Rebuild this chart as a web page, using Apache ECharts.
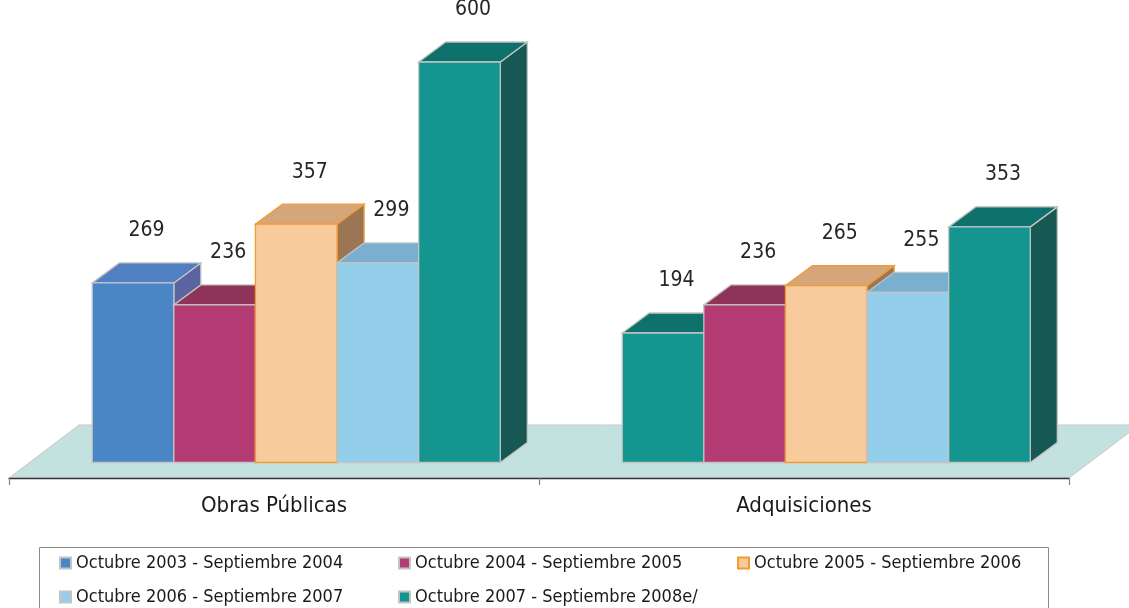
<!DOCTYPE html>
<html>
<head>
<meta charset="utf-8">
<script src="https://cdn.jsdelivr.net/npm/echarts@6/dist/echarts.min.js"></script>
<style>
html,body{margin:0;padding:0;background:#fff;}
#chart{width:1129px;height:608px;}
</style>
</head>
<body>
<div id="chart"></div>
<script>
const categories = ['Obras Públicas', 'Adquisiciones'];
const seriesNames = [
  'Octubre 2003 - Septiembre 2004',
  'Octubre 2004 - Septiembre 2005',
  'Octubre 2005 - Septiembre 2006',
  'Octubre 2006 - Septiembre 2007',
  'Octubre 2007 - Septiembre 2008e/'
];
const values2004 = [269, 194];
const values2005 = [236, 236];
const values2006 = [357, 265];
const values2007 = [299, 255];
const values2008 = [600, 353];
const allValues = [values2004, values2005, values2006, values2007, values2008];

const FONT = '"DejaVu Sans Condensed", "DejaVu Sans", sans-serif';
const palettes = [
  {front:'#4A86C6', top:'#5080C1', side:'#5A64A0', border:'#C4C4C4'},
  {front:'#B53B74', top:'#8E3459', side:'#7E2D50', border:'#C4C4C4'},
  {front:'#F7CB9C', top:'#D4A679', side:'#9B7654', border:'#F39A36'},
  {front:'#93CFEB', top:'#7BAFCF', side:'#6C9BB8', border:'#C4C4C4'},
  {front:'#149590', top:'#0E716C', side:'#165853', border:'#C4C4C4'}
];
function paletteFor(si, di) {
  // in the reference, the first Adquisiciones bar is drawn in teal
  if (si === 0 && di === 1) return palettes[4];
  return palettes[si];
}
const DX = 27, DY = -20;

function makeBarRender(si) {
  return function (params, api) {
    const cat = api.value(0), val = api.value(1);
    const base = api.coord([cat, 0]);
    const topP = api.coord([cat, val]);
    const bw = api.size([1, 0])[0];
    const bandStart = base[0] - bw / 2;
    const w = bw * 0.154;
    const x0 = bandStart + bw * 0.157 + si * w;
    const x1 = x0 + w;
    const yb = base[1], yt = topP[1];
    const p = paletteFor(si, params.dataIndex);
    const lw = 1.3;
    return {
      type: 'group',
      children: [
        {type:'polygon', shape:{points:[[x1,yt],[x1+DX,yt+DY],[x1+DX,yb+DY],[x1,yb]]},
         style:{fill:p.side, stroke:p.border, lineWidth:lw}},
        {type:'polygon', shape:{points:[[x0,yt],[x1,yt],[x1+DX,yt+DY],[x0+DX,yt+DY]]},
         style:{fill:p.top, stroke:p.border, lineWidth:lw}},
        {type:'rect', shape:{x:x0, y:yt, width:w, height:yb-yt},
         style:{fill:p.front, stroke:p.border, lineWidth:lw}},
        {type:'text', z2:100, style:{x:(x0+x1)/2 + 13.5, y:yt - 52, text:String(val),
          fill:'#262626', font:'21px ' + FONT, textAlign:'center', textVerticalAlign:'middle'}}
      ]
    };
  };
}

const floorSeries = {
  type: 'custom',
  name: '__floor',
  silent: true,
  z: 1,
  data: [[0, 0]],
  renderItem: function (params, api) {
    const cs = params.coordSys;
    const front = cs.y + cs.height + 15.5;
    const l = cs.x, r = cs.x + cs.width;
    const fdx = 70, fdy = -53;
    return {
      type: 'polygon',
      shape: {points: [[l, front], [r, front], [r + fdx, front + fdy], [l + fdx, front + fdy]]},
      style: {fill: '#C3E2DF', stroke: '#C8C8C8', lineWidth: 1}
    };
  }
};

const barSeries = allValues.map((vals, si) => ({
  type: 'custom',
  name: seriesNames[si],
  z: 2,
  itemStyle: {color: palettes[si].front, borderColor: palettes[si].border, borderWidth: si === 2 ? 1 : 0.5},
  data: vals.map((v, k) => [k, v]),
  renderItem: makeBarRender(si)
}));

const chart = echarts.init(document.getElementById('chart'));
chart.setOption({
  animation: false,
  backgroundColor: '#ffffff',
  grid: {left: 9, right: 60, top: 62, bottom: 145.5, containLabel: false},
  xAxis: {
    type: 'category',
    data: categories,
    offset: 15.5,
    z: 5,
    axisLine: {onZero: false, lineStyle: {color: '#333333', width: 1.3}},
    axisTick: {show: true, length: 7, lineStyle: {color: '#808080', width: 1.2}},
    axisLabel: {color: '#1a1a1a', fontFamily: FONT, fontSize: 22, margin: 17}
  },
  yAxis: {type: 'value', min: 0, max: 600, show: false, splitLine: {show: false}},
  legend: {
    left: 59,
    top: 551,
    width: 1040,
    padding: 0,
    itemWidth: 11,
    itemHeight: 11,
    itemGap: 10,
    icon: 'rect',
    data: seriesNames,
    textStyle: {color: '#1a1a1a', fontFamily: FONT, fontSize: 18, width: 312, lineHeight: 24, padding: [0,0,0,0]}
  },
  graphic: [{
    type: 'rect', silent: true,
    shape: {x: 39.5, y: 547.5, width: 1009, height: 70},
    style: {fill: 'none', stroke: '#8C8C8C', lineWidth: 1}
  }],
  series: [floorSeries].concat(barSeries)
});
</script>
</body>
</html>
